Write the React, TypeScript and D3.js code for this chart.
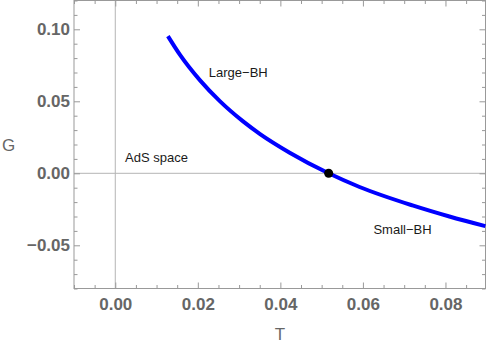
import * as d3 from "d3";
import React, {useEffect, useRef} from "react";

// curve G(T)
const tValues = [0.01275, 0.01565, 0.02049, 0.02533, 0.03089, 0.0350, 0.04226, 0.05169, 0.05919, 0.07201, 0.08096, 0.08967];
const gValues = [0.0953, 0.0824, 0.0647, 0.0501, 0.0362, 0.0274, 0.0143, 0.0, -0.0095, -0.0223, -0.0300, -0.0367];

// critical point (black dot)
const criticalPoint = {T: 0.0517, G: 0.0};

const xTicks = [0, 0.02, 0.04, 0.06, 0.08];
const yTicks = [-0.05, 0, 0.05, 0.1];

const labelNames = ["Large\u2212BH", "AdS space", "Small\u2212BH"];
const labelT = [0.0298, 0.00997, 0.0696];
const labelG = [0.0703, 0.0113, -0.0387];

const width = 488;
const height = 347;
const frame = {left: 74, right: 485.5, top: 0.5, bottom: 288.5};

const App = () => {
    const ref = useRef<SVGSVGElement | null>(null);

    useEffect(() => {
        const svg = d3.select(ref.current);
        svg.selectAll("*").remove();

        const x = d3.scaleLinear().domain([-0.01, 0.0897]).range([frame.left, frame.right]);
        const y = d3.scaleLinear().domain([-0.08, 0.12]).range([frame.bottom, frame.top]);

        const frameColor = "#999999";
        const labelColor = "#666666";

        // zero lines
        svg.append("line")
            .attr("x1", x(0)).attr("x2", x(0))
            .attr("y1", frame.top).attr("y2", frame.bottom)
            .attr("stroke", "#b4b4b4").attr("stroke-width", 1);
        svg.append("line")
            .attr("x1", frame.left).attr("x2", frame.right)
            .attr("y1", y(0)).attr("y2", y(0))
            .attr("stroke", "#b4b4b4").attr("stroke-width", 1);

        const minorX = d3.range(-0.01, 0.0899, 0.005).filter(v => !xTicks.some(t => Math.abs(t - v) < 1e-9));
        const minorY = d3.range(-0.08, 0.1201, 0.01).filter(v => !yTicks.some(t => Math.abs(t - v) < 1e-9));

        const styleAxis = (g: any) => {
            g.select(".domain").remove();
            g.selectAll("line").attr("stroke", frameColor);
            g.selectAll("text")
                .attr("fill", labelColor)
                .attr("font-family", "Liberation Sans, Arial, sans-serif")
                .attr("font-weight", "bold")
                .attr("font-size", 17);
        };

        // bottom
        svg.append("g").attr("transform", `translate(0,${frame.bottom})`)
            .call(d3.axisBottom(x).tickValues(xTicks).tickSize(-6).tickPadding(9).tickFormat(d3.format(".2f")))
            .call(styleAxis);
        svg.append("g").attr("transform", `translate(0,${frame.bottom})`)
            .call(d3.axisBottom(x).tickValues(minorX).tickSize(-3.5).tickFormat(() => ""))
            .call(styleAxis);
        // top
        svg.append("g").attr("transform", `translate(0,${frame.top})`)
            .call(d3.axisTop(x).tickValues(xTicks).tickSize(-6).tickFormat(() => ""))
            .call(styleAxis);
        svg.append("g").attr("transform", `translate(0,${frame.top})`)
            .call(d3.axisTop(x).tickValues(minorX).tickSize(-3.5).tickFormat(() => ""))
            .call(styleAxis);
        // left
        svg.append("g").attr("transform", `translate(${frame.left},0)`)
            .call(d3.axisLeft(y).tickValues(yTicks).tickSize(-6).tickPadding(4).tickFormat(d3.format(".2f")))
            .call(styleAxis);
        svg.append("g").attr("transform", `translate(${frame.left},0)`)
            .call(d3.axisLeft(y).tickValues(minorY).tickSize(-3.5).tickFormat(() => ""))
            .call(styleAxis);
        // right
        svg.append("g").attr("transform", `translate(${frame.right},0)`)
            .call(d3.axisRight(y).tickValues(yTicks).tickSize(-6).tickFormat(() => ""))
            .call(styleAxis);
        svg.append("g").attr("transform", `translate(${frame.right},0)`)
            .call(d3.axisRight(y).tickValues(minorY).tickSize(-3.5).tickFormat(() => ""))
            .call(styleAxis);

        // frame
        svg.append("rect")
            .attr("x", frame.left).attr("y", frame.top)
            .attr("width", frame.right - frame.left)
            .attr("height", frame.bottom - frame.top)
            .attr("fill", "none")
            .attr("stroke", frameColor)
            .attr("stroke-width", 1);

        // curve
        const data = tValues.map((t, i) => ({T: t, G: gValues[i]}));
        const line = d3.line<{T: number, G: number}>()
            .x(d => x(d.T))
            .y(d => y(d.G))
            .curve(d3.curveMonotoneX);
        svg.append("path")
            .datum(data)
            .attr("d", line)
            .attr("fill", "none")
            .attr("stroke", "#0000ff")
            .attr("stroke-width", 4);

        svg.append("circle")
            .attr("cx", x(criticalPoint.T))
            .attr("cy", y(criticalPoint.G))
            .attr("r", 4.5)
            .attr("fill", "black");

        // region labels
        labelNames.forEach((name, i) => {
            svg.append("text")
                .attr("x", x(labelT[i]))
                .attr("y", y(labelG[i]))
                .attr("dy", "0.35em")
                .attr("text-anchor", "middle")
                .attr("font-family", "Liberation Sans, Arial, sans-serif")
                .attr("font-size", 13)
                .attr("fill", "#1a1a1a")
                .text(name);
        });

        // axis titles
        svg.append("text")
            .attr("x", 2).attr("y", 151)
            .attr("font-family", "Liberation Sans, Arial, sans-serif")
            .attr("font-size", 17)
            .attr("fill", labelColor)
            .text("G");
        svg.append("text")
            .attr("x", 280).attr("y", 340)
            .attr("text-anchor", "middle")
            .attr("font-family", "Liberation Sans, Arial, sans-serif")
            .attr("font-size", 17)
            .attr("fill", labelColor)
            .text("T");
    }, []);

    return (
        <svg ref={ref} width={width} height={height}
             style={{position: "absolute", left: 0, top: 0, background: "white"}}/>
    );
};

export default App;
